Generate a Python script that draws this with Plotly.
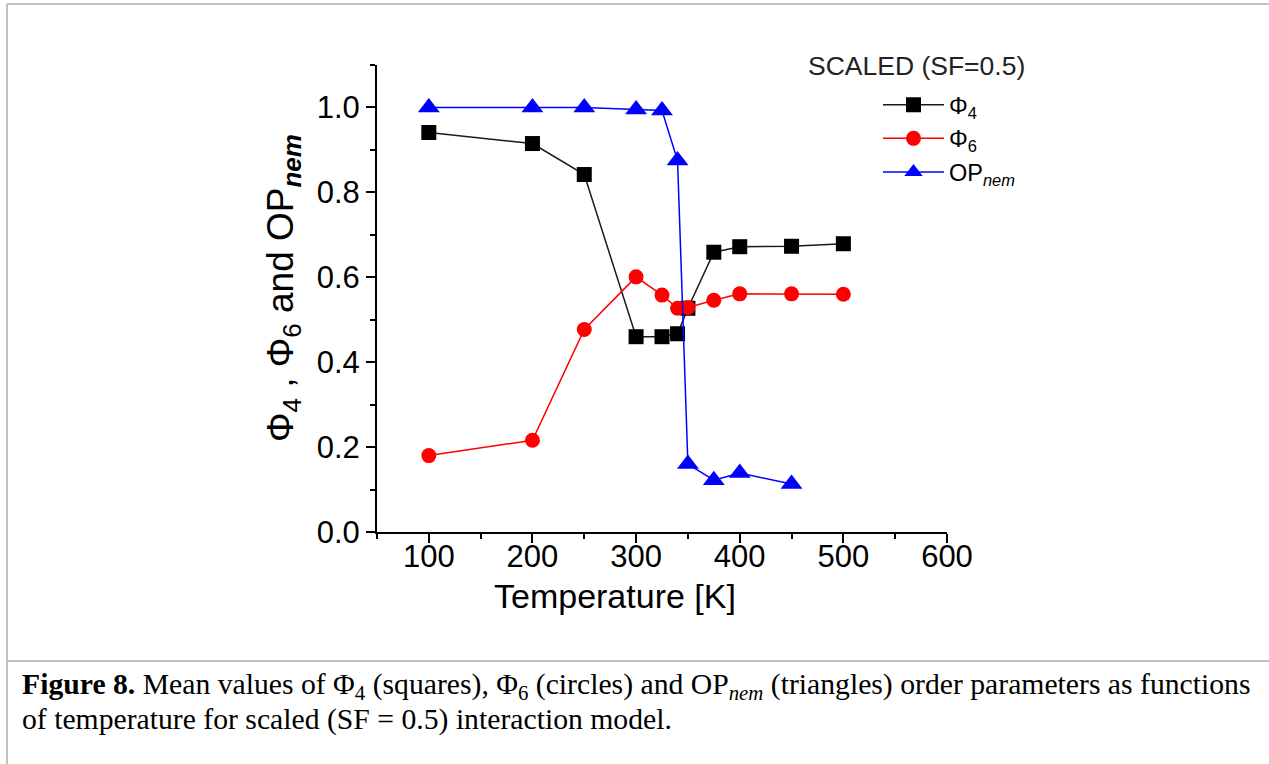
import plotly.graph_objects as go

# ---- data ----
temperature = [100, 200, 250, 300, 325, 340, 350, 375, 400, 450, 500]
phi4 = [0.941, 0.915, 0.842, 0.460, 0.460, 0.467, 0.527, 0.659, 0.672, 0.673, 0.679]
phi6 = [0.180, 0.216, 0.477, 0.601, 0.558, 0.527, 0.529, 0.546, 0.561, 0.561, 0.560]
op_temperature = [100, 200, 250, 300, 325, 340, 350, 375, 400, 450]
op_nem = [1.0, 1.0, 1.0, 0.995, 0.993, 0.875, 0.160, 0.122, 0.139, 0.113]

x_ticks = [100, 200, 300, 400, 500, 600]
y_ticks = [0.0, 0.2, 0.4, 0.6, 0.8, 1.0]

W, H = 1269, 764
L, R, T, B = 377, 322, 65, 232
PW, PH = W - L - R, H - T - B


def px(x):
    return (x - L) / PW


def py(y):
    return (H - B - y) / PH


SANS = "Liberation Sans, Arial, sans-serif"
SERIF = "Liberation Serif, Times New Roman, serif"

fig = go.Figure()
fig.add_trace(go.Scatter(
    x=temperature, y=phi4, mode="lines+markers", name="Φ<sub>4</sub>",
    line=dict(color="#1a1a1a", width=1.5),
    marker=dict(symbol="square", size=15, color="black")))
fig.add_trace(go.Scatter(
    x=temperature, y=phi6, mode="lines+markers", name="Φ<sub>6</sub>",
    line=dict(color="#ff0000", width=1.5),
    marker=dict(symbol="circle", size=15, color="#ff0000")))
fig.add_trace(go.Scatter(
    x=op_temperature, y=op_nem, mode="lines+markers", name="OP<sub><i>nem</i></sub>",
    line=dict(color="#0000ff", width=1.5),
    marker=dict(symbol="triangle-up", size=19, color="#0000ff")))

axis_common = dict(
    showline=True, linecolor="black", linewidth=2, mirror=False,
    ticks="outside", ticklen=9, tickwidth=2, tickcolor="black",
    showgrid=False, zeroline=False,
    tickfont=dict(family=SANS, size=31, color="black"),
)

fig.update_xaxes(range=[50, 600], tickvals=x_ticks, ticklabelstandoff=-13,
                 minor=dict(dtick=50, tick0=0, ticks="outside", ticklen=5,
                            tickwidth=2, tickcolor="black"),
                 **axis_common)
fig.update_yaxes(range=[0, 1.1], tickvals=y_ticks, tickformat=".1f",
                 minor=dict(dtick=0.1, tick0=0, ticks="outside", ticklen=5,
                            tickwidth=2, tickcolor="black"),
                 **axis_common)

annotations = [
    dict(text="Temperature [K]", x=px(615), y=py(596), xref="paper", yref="paper",
         showarrow=False, xanchor="center", yanchor="middle",
         font=dict(family=SANS, size=34, color="black")),
    dict(text="Φ<sub>4</sub> , Φ<sub>6</sub> and OP<sub><b><i>nem</i></b></sub>",
         x=px(283), y=py(288), xref="paper", yref="paper", textangle=-90,
         showarrow=False, xanchor="center", yanchor="middle",
         font=dict(family=SANS, size=37, color="black")),
    dict(text="SCALED (SF=0.5)", x=px(806), y=py(66), xref="paper", yref="paper",
         showarrow=False, xanchor="left", yanchor="middle",
         font=dict(family=SANS, size=26.5, color="#222222")),
    dict(text="<b>Figure 8.</b> Mean values of Φ<sub>4</sub> (squares), Φ<sub>6</sub> (circles) "
              "and OP<sub><i>nem</i></sub> (triangles) order parameters as functions",
         x=px(20), y=py(686), xref="paper", yref="paper",
         showarrow=False, xanchor="left", yanchor="middle", align="left",
         font=dict(family=SERIF, size=29.7, color="black")),
    dict(text="of temperature for scaled (SF = 0.5) interaction model.",
         x=px(20), y=py(719), xref="paper", yref="paper",
         showarrow=False, xanchor="left", yanchor="middle", align="left",
         font=dict(family=SERIF, size=29.7, color="black")),
]

border = dict(color="#c0c0c0", width=2)
shapes = [
    dict(type="line", xref="paper", yref="paper", x0=px(7), x1=px(W), y0=py(4), y1=py(4), line=border),
    dict(type="line", xref="paper", yref="paper", x0=px(7), x1=px(7), y0=py(4), y1=py(H), line=border),
    dict(type="line", xref="paper", yref="paper", x0=px(7), x1=px(W), y0=py(661), y1=py(661), line=border),
]

fig.update_layout(
    width=W, height=H,
    margin=dict(l=L, r=R, t=T, b=B, autoexpand=False),
    paper_bgcolor="white", plot_bgcolor="white",
    showlegend=True,
    legend=dict(x=px(878), y=py(83), xanchor="left", yanchor="top",
                bgcolor="rgba(0,0,0,0)", borderwidth=0, itemwidth=61,
                font=dict(family=SANS, size=23.5, color="black"),
                tracegroupgap=0),
    annotations=annotations,
    shapes=shapes,
)

fig.write_html("out.html", config={"displayModeBar": False},
               post_script="document.body.style.margin='0';document.body.style.overflow='hidden';")
